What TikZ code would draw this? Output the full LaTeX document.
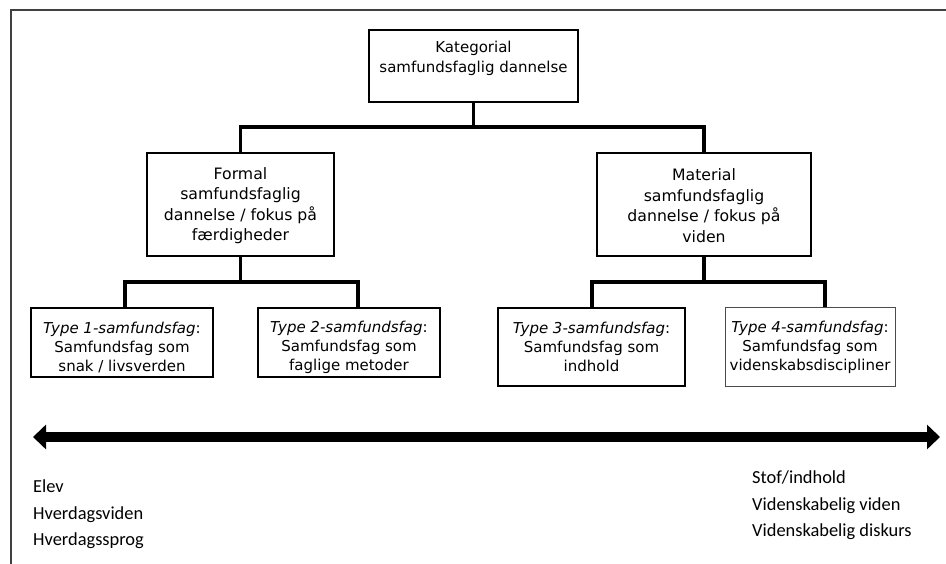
\documentclass[tikz,border=0pt]{standalone}
\usepackage{fontspec}
\setmainfont{DejaVu Sans}
\newfontfamily\calfont{Carlito}
\usetikzlibrary{arrows.meta}
\begin{document}
\begin{tikzpicture}[x=1pt,y=-1pt,
  box/.style={draw, line width=1.6pt, inner sep=0pt},
  toptextstyle/.style={align=center, inner sep=0pt, font=\fontsize{15}{20.5}\selectfont},
  boxtext/.style={align=center, inner sep=0pt, font=\fontsize{15.7}{20.5}\selectfont},
  smalltext/.style={align=center, inner sep=0pt, font=\fontsize{15}{19}\selectfont},
  sidetext/.style={align=left, inner sep=0pt, anchor=north west, font=\calfont\fontsize{18.4}{26.5}\selectfont},
  conn/.style={line width=3.7pt, line join=miter},
  bigarrow/.style={line width=10pt, {Triangle[length=13pt,width=24pt]}-{Triangle[length=13pt,width=24pt]}}]
\useasboundingbox (0,0) rectangle (946,564);
% frame
\draw[line width=1.2pt, black!75] (11,564) -- (11,10) -- (946,10);
% boxes
\node[box, minimum width=209pt, minimum height=72pt] (top) at (473.5,66) {};
\node[toptextstyle] (toptext) at (473.5,58.5) {Kategorial\\samfundsfaglig dannelse};
\node[box, minimum width=187pt, minimum height=103pt] (midL) at (240.5,204.5) {};
\node[boxtext] (midLtext) at (240.5,205.5) {Formal\\samfundsfaglig\\dannelse / fokus på\\færdigheder};
\node[box, minimum width=214pt, minimum height=103pt] (midR) at (704,204.5) {};
\node[boxtext] (midRtext) at (704,205.5) {Material\\samfundsfaglig\\dannelse / fokus på\\viden};
\node[box, minimum width=182pt, minimum height=69pt] (t1) at (122,342.5) {};
\node[smalltext] (t1text) at (122,347) {\textit{Type 1-samfundsfag}:\\Samfundsfag som\\snak / livsverden};
\node[box, minimum width=182pt, minimum height=69pt] (t2) at (349,342.5) {};
\node[smalltext] (t2text) at (349,347) {\textit{Type 2-samfundsfag}:\\Samfundsfag som\\faglige metoder};
\node[box, minimum width=187pt, minimum height=78pt] (t3) at (591.5,347) {};
\node[smalltext] (t3text) at (591.5,347) {\textit{Type 3-samfundsfag}:\\Samfundsfag som\\indhold};
\node[box, line width=1pt, draw=black!70, minimum width=170pt, minimum height=78pt] (t4) at (810,347) {};
\node[smalltext] (t4text) at (810,347) {\textit{Type 4-samfundsfag}:\\Samfundsfag som\\videnskabsdiscipliner};
% connectors
\coordinate (j0) at (473.5,127);
\draw[conn] (top.south) -- (j0);
\draw[conn] (midL.north) |- (j0) -| (midR.north);
\coordinate (jL) at (240.5,282);
\coordinate (a1) at (125,282);
\coordinate (a2) at (358,282);
\draw[conn] (midL.south) -- (jL);
\draw[conn] (a1 |- t1.north) -- (a1) -- (a2) -- (a2 |- t2.north);
\coordinate (jR) at (704,282);
\coordinate (b1) at (592,282);
\coordinate (b2) at (825,282);
\draw[conn] (midR.south) -- (jR);
\draw[conn] (b1 |- t3.north) -- (b1) -- (b2) -- (b2 |- t4.north);
% arrow
\coordinate (arL) at (33,437);
\coordinate (arR) at (940,437);
\draw[bigarrow] (arL) -- (arR);
% side texts
\node[sidetext] (lefttext) at (33,480) {Elev\\Hverdagsviden\\Hverdagssprog};
\node[sidetext] (righttext) at (752,471) {Stof/indhold\\Videnskabelig viden\\Videnskabelig diskurs};
\end{tikzpicture}
\end{document}
